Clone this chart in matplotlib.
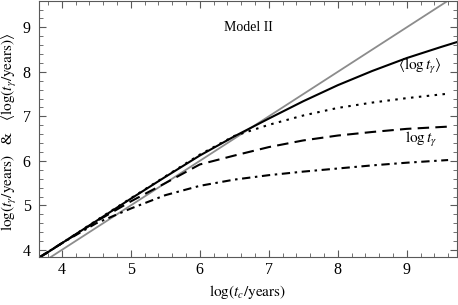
import numpy as np
import matplotlib.pyplot as plt
from matplotlib.ticker import MultipleLocator

plt.rcParams['font.family'] = ['Liberation Serif', 'DejaVu Serif']
plt.rcParams['mathtext.fontset'] = 'stix'

# 读图得到的数据 (log t_c, log t_gamma)
x_mean = [3.67, 4.0, 4.5, 5.0, 5.5, 6.0, 6.5, 7.0, 7.5, 8.0, 8.5, 9.0, 9.5, 9.73]
y_mean = [3.82, 4.15, 4.65, 5.15, 5.64, 6.12, 6.55, 6.95, 7.34, 7.70, 8.02, 8.31, 8.56, 8.67]

x_c = [3.67, 4.0, 4.5, 5.0, 5.5, 6.0, 6.5, 7.0, 7.5, 8.0, 8.5, 9.0, 9.6]
y_dot = [3.82, 4.15, 4.66, 5.16, 5.65, 6.14, 6.56, 6.81, 7.02, 7.19, 7.31, 7.41, 7.51]
y_dash = [3.83, 4.15, 4.64, 5.09, 5.50, 5.92, 6.12, 6.31, 6.46, 6.57, 6.65, 6.72, 6.77]
y_dashdot = [3.83, 4.15, 4.60, 4.93, 5.23, 5.44, 5.58, 5.68, 5.76, 5.83, 5.90, 5.96, 6.02]

x_ref = [3.6, 9.8]

fig = plt.figure(figsize=(4.58, 3.05), dpi=100)
ax = fig.add_axes([0.085, 0.157, 0.913, 0.841])

ax.plot(x_ref, x_ref, color='0.55', lw=1.3)
ax.plot(x_mean, y_mean, color='black', lw=1.5)
ax.plot(x_c, y_dot, color='black', lw=1.5, dashes=(1.2, 2.6))
ax.plot(x_c, y_dash, color='black', lw=1.5, dashes=(5.5, 3))
ax.plot(x_c, y_dashdot, color='black', lw=1.5, dashes=(4, 2.2, 1.2, 2.2))

ax.text(6.71, 9.0, 'Model II', fontsize=10, ha='center', va='center')
ax.text(9.19, 8.13, r'$\langle\log t_\gamma\rangle$', fontsize=11, ha='center', va='center')
ax.text(9.21, 6.48, r'$\log t_\gamma$', fontsize=11, ha='center', va='center')

ax.set_xlim(3.67, 9.73)
ax.set_ylim(3.84, 9.6)
ax.xaxis.set_major_locator(MultipleLocator(1))
ax.xaxis.set_minor_locator(MultipleLocator(0.2))
ax.yaxis.set_major_locator(MultipleLocator(1))
ax.yaxis.set_minor_locator(MultipleLocator(0.2))
ax.tick_params(which='both', direction='in', top=True, right=True, color='0.35',
               labelsize=11.5)
ax.tick_params(axis='y', pad=6)
ax.tick_params(which='major', length=5, width=0.8)
ax.tick_params(which='minor', length=3, width=0.6)
for s in ax.spines.values():
    s.set_color('0.35')
    s.set_linewidth(0.8)

ax.set_xlabel(r'$\log(t_c/\mathrm{years})$', fontsize=11)
ax.set_ylabel(r'$\log(t_\gamma/\mathrm{years})$   &   $\langle\log(t_\gamma/\mathrm{years})\rangle$',
              fontsize=11)
ax.xaxis.set_label_coords(0.5, -0.1)
ax.yaxis.set_label_coords(-0.048, 0.49)

fig.savefig('out.png', dpi=100)
